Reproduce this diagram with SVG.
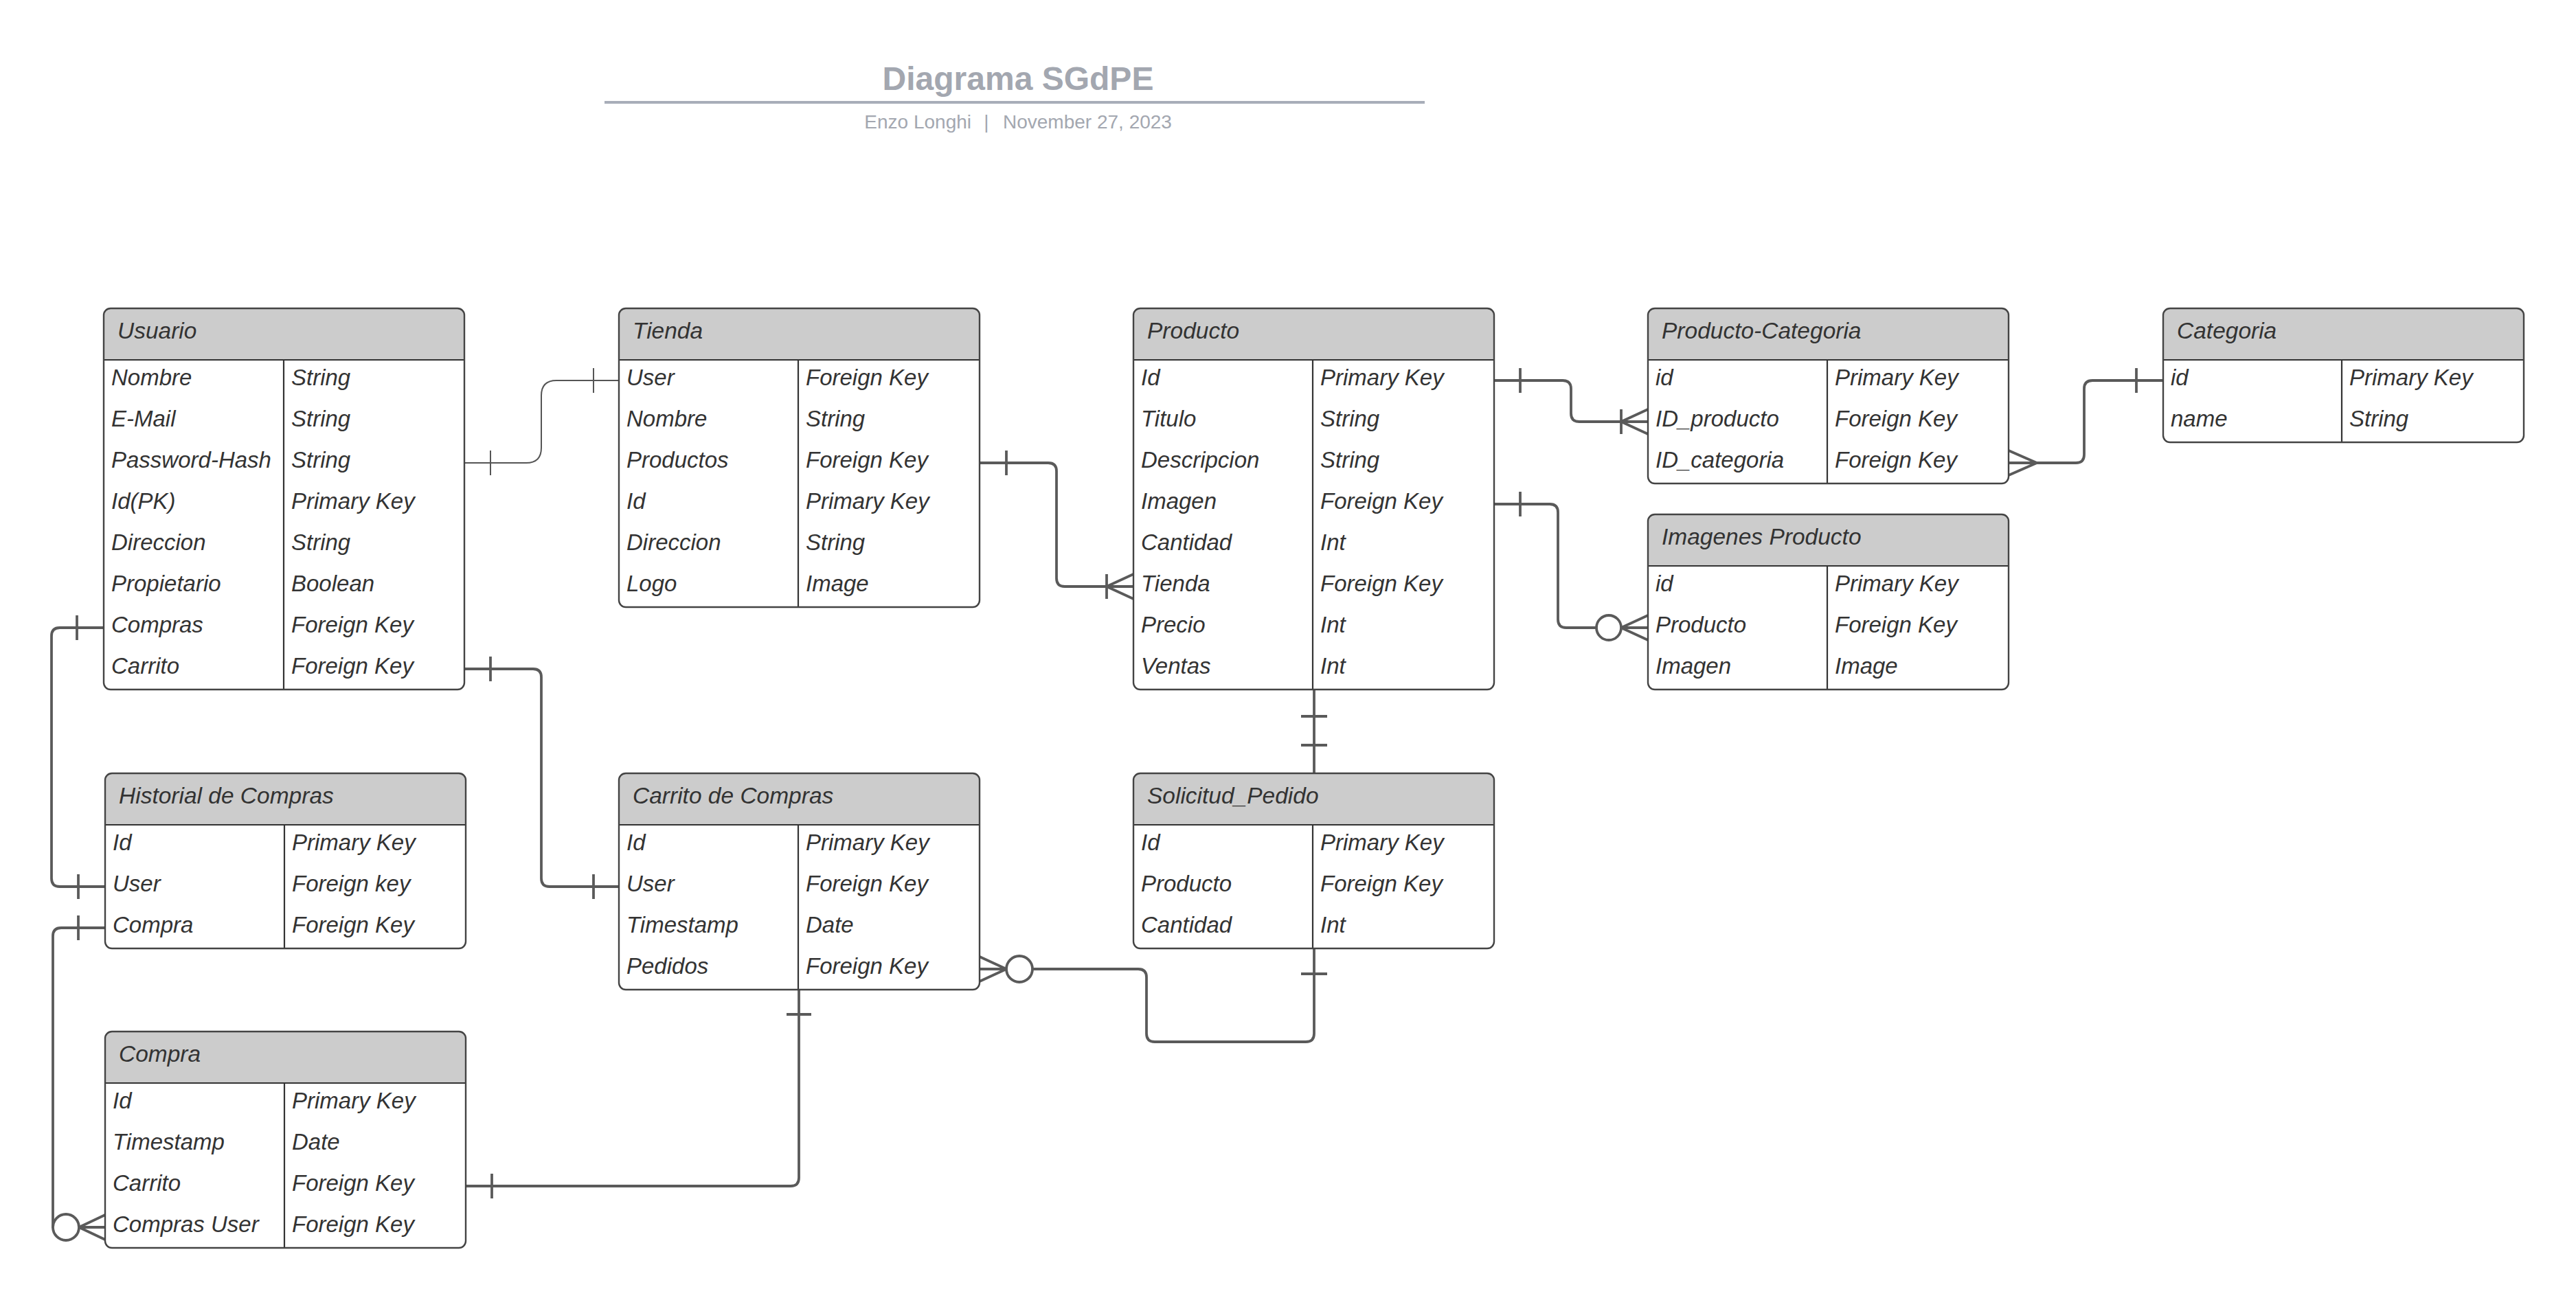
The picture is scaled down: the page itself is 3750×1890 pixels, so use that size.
<svg xmlns="http://www.w3.org/2000/svg" width="3750" height="1890" viewBox="0 0 3750 1890">
<style>
.bg{fill:#ffffff}
.body{fill:#ffffff;stroke:none}
.hdr{fill:#cccccc;stroke:none}
.frame{fill:none;stroke:#444444;stroke-width:2.4}
.sep{stroke:#333333;stroke-width:2.2}
.t{font-family:"Liberation Sans",Arial,sans-serif;font-style:italic;font-size:33px;fill:#333333}
.h{font-size:33.5px}
.title{font-family:"Liberation Sans",Arial,sans-serif;font-weight:bold;font-size:48px;fill:#a3a7b0}
.sub{font-family:"Liberation Sans",Arial,sans-serif;font-size:28px;fill:#a3a7b0}
.ln{fill:none;stroke:#5a5a5a;stroke-width:3.8;stroke-linejoin:round}
.thin{fill:none;stroke:#555555;stroke-width:2}
.circ{fill:#ffffff;stroke:#5a5a5a;stroke-width:3.8}
</style>
<rect class="bg" x="0" y="0" width="3750" height="1890"/>

<g id="title">
<text class="title" x="1482" y="131" text-anchor="middle">Diagrama SGdPE</text>
<line x1="880" y1="149" x2="2074" y2="149" stroke="#a8adb9" stroke-width="4"/>
<text class="sub" x="1414" y="187" text-anchor="end">Enzo Longhi</text>
<text class="sub" x="1436" y="187" text-anchor="middle">|</text>
<text class="sub" x="1460" y="187">November 27, 2023</text>
</g>

<g id="connectors">
<!-- Usuario -> Tienda (thin) -->
<path class="thin" d="M676,674 H766 Q788,674 788,652 V576 Q788,554 810,554 H901"/>
<path class="thin" d="M714,656 V692 M864,536 V572"/>
<!-- Usuario Carrito -> Carrito de Compras User -->
<path class="ln" d="M676,974 H776 Q788,974 788,986 V1279 Q788,1291 800,1291 H901"/>
<path class="ln" d="M714,956 V992 M864,1273 V1309"/>
<!-- Tienda Productos -> Producto Tienda -->
<path class="ln" d="M1426,674 H1526 Q1538,674 1538,686 V842 Q1538,854 1550,854 H1650"/>
<path class="ln" d="M1465,656 V692 M1611,836 V872 M1650,836 L1611,854 L1650,872"/>
<!-- Producto Id -> Producto-Categoria ID_producto -->
<path class="ln" d="M2175,554 H2275 Q2287,554 2287,566 V602 Q2287,614 2299,614 H2399"/>
<path class="ln" d="M2213,536 V572 M2360,596 V632 M2399,596 L2360,614 L2399,632"/>
<!-- Producto Imagen -> Imagenes Producto -->
<path class="ln" d="M2175,734 H2256 Q2268,734 2268,746 V902 Q2268,914 2280,914 H2399"/>
<path class="ln" d="M2213,716 V752 M2399,896 L2360,914 L2399,932"/>
<circle class="circ" cx="2342" cy="914" r="18"/>
<!-- Producto-Categoria ID_categoria -> Categoria id -->
<path class="ln" d="M2924,674 H3022 Q3034,674 3034,662 V566 Q3034,554 3046,554 H3149"/>
<path class="ln" d="M2924,656 L2965,674 L2924,692 M3110,536 V572"/>
<!-- Producto -> Solicitud_Pedido -->
<path class="ln" d="M1913,1004 V1126"/>
<path class="ln" d="M1894,1043 H1932 M1894,1085 H1932"/>
<!-- Carrito Pedidos -> Solicitud_Pedido -->
<path class="ln" d="M1426,1411 H1657 Q1669,1411 1669,1423 V1505 Q1669,1517 1681,1517 H1901 Q1913,1517 1913,1505 V1381"/>
<path class="ln" d="M1426,1393 L1465,1411 L1426,1429 M1894,1418 H1932"/>
<circle class="circ" cx="1484" cy="1411" r="19"/>
<!-- Carrito de Compras -> Compra Carrito -->
<path class="ln" d="M1163,1441 V1715 Q1163,1727 1151,1727 H678"/>
<path class="ln" d="M1145,1477 H1181 M716,1709 V1745"/>
<!-- Usuario Compras -> Historial User -->
<path class="ln" d="M151,914 H87 Q75,914 75,926 V1279 Q75,1291 87,1291 H153"/>
<path class="ln" d="M112,896 V932 M114,1273 V1309"/>
<!-- Historial Compra -> Compra Compras User -->
<path class="ln" d="M153,1351 H89 Q77,1351 77,1363 V1787 H153"/>
<path class="ln" d="M114,1333 V1369 M153,1769 L115,1787 L153,1805"/>
<circle class="circ" cx="96" cy="1787" r="19"/>
</g>

<g id="usuario">
<rect class="body" x="151" y="449" width="525" height="555" rx="10"/>
<path class="hdr" d="M151,524 V459 Q151,449 161,449 H666 Q676,449 676,459 V524 Z"/>
<line class="sep" x1="151" y1="524" x2="676" y2="524"/>
<line class="sep" x1="413" y1="524" x2="413" y2="1004"/>
<rect class="frame" x="151" y="449" width="525" height="555" rx="10"/>
<text class="t h" x="171" y="493">Usuario</text>
<text class="t" x="162" y="561">Nombre</text><text class="t" x="424" y="561">String</text>
<text class="t" x="162" y="621">E-Mail</text><text class="t" x="424" y="621">String</text>
<text class="t" x="162" y="681">Password-Hash</text><text class="t" x="424" y="681">String</text>
<text class="t" x="162" y="741">Id(PK)</text><text class="t" x="424" y="741">Primary Key</text>
<text class="t" x="162" y="801">Direccion</text><text class="t" x="424" y="801">String</text>
<text class="t" x="162" y="861">Propietario</text><text class="t" x="424" y="861">Boolean</text>
<text class="t" x="162" y="921">Compras</text><text class="t" x="424" y="921">Foreign Key</text>
<text class="t" x="162" y="981">Carrito</text><text class="t" x="424" y="981">Foreign Key</text>
</g>

<g id="tienda">
<rect class="body" x="901" y="449" width="525" height="435" rx="10"/>
<path class="hdr" d="M901,524 V459 Q901,449 911,449 H1416 Q1426,449 1426,459 V524 Z"/>
<line class="sep" x1="901" y1="524" x2="1426" y2="524"/>
<line class="sep" x1="1162" y1="524" x2="1162" y2="884"/>
<rect class="frame" x="901" y="449" width="525" height="435" rx="10"/>
<text class="t h" x="921" y="493">Tienda</text>
<text class="t" x="912" y="561">User</text><text class="t" x="1173" y="561">Foreign Key</text>
<text class="t" x="912" y="621">Nombre</text><text class="t" x="1173" y="621">String</text>
<text class="t" x="912" y="681">Productos</text><text class="t" x="1173" y="681">Foreign Key</text>
<text class="t" x="912" y="741">Id</text><text class="t" x="1173" y="741">Primary Key</text>
<text class="t" x="912" y="801">Direccion</text><text class="t" x="1173" y="801">String</text>
<text class="t" x="912" y="861">Logo</text><text class="t" x="1173" y="861">Image</text>
</g>

<g id="producto">
<rect class="body" x="1650" y="449" width="525" height="555" rx="10"/>
<path class="hdr" d="M1650,524 V459 Q1650,449 1660,449 H2165 Q2175,449 2175,459 V524 Z"/>
<line class="sep" x1="1650" y1="524" x2="2175" y2="524"/>
<line class="sep" x1="1911" y1="524" x2="1911" y2="1004"/>
<rect class="frame" x="1650" y="449" width="525" height="555" rx="10"/>
<text class="t h" x="1670" y="493">Producto</text>
<text class="t" x="1661" y="561">Id</text><text class="t" x="1922" y="561">Primary Key</text>
<text class="t" x="1661" y="621">Titulo</text><text class="t" x="1922" y="621">String</text>
<text class="t" x="1661" y="681">Descripcion</text><text class="t" x="1922" y="681">String</text>
<text class="t" x="1661" y="741">Imagen</text><text class="t" x="1922" y="741">Foreign Key</text>
<text class="t" x="1661" y="801">Cantidad</text><text class="t" x="1922" y="801">Int</text>
<text class="t" x="1661" y="861">Tienda</text><text class="t" x="1922" y="861">Foreign Key</text>
<text class="t" x="1661" y="921">Precio</text><text class="t" x="1922" y="921">Int</text>
<text class="t" x="1661" y="981">Ventas</text><text class="t" x="1922" y="981">Int</text>
</g>

<g id="producto-categoria">
<rect class="body" x="2399" y="449" width="525" height="255" rx="10"/>
<path class="hdr" d="M2399,524 V459 Q2399,449 2409,449 H2914 Q2924,449 2924,459 V524 Z"/>
<line class="sep" x1="2399" y1="524" x2="2924" y2="524"/>
<line class="sep" x1="2660" y1="524" x2="2660" y2="704"/>
<rect class="frame" x="2399" y="449" width="525" height="255" rx="10"/>
<text class="t h" x="2419" y="493">Producto-Categoria</text>
<text class="t" x="2410" y="561">id</text><text class="t" x="2671" y="561">Primary Key</text>
<text class="t" x="2410" y="621">ID_producto</text><text class="t" x="2671" y="621">Foreign Key</text>
<text class="t" x="2410" y="681">ID_categoria</text><text class="t" x="2671" y="681">Foreign Key</text>
</g>

<g id="categoria">
<rect class="body" x="3149" y="449" width="525" height="195" rx="10"/>
<path class="hdr" d="M3149,524 V459 Q3149,449 3159,449 H3664 Q3674,449 3674,459 V524 Z"/>
<line class="sep" x1="3149" y1="524" x2="3674" y2="524"/>
<line class="sep" x1="3409" y1="524" x2="3409" y2="644"/>
<rect class="frame" x="3149" y="449" width="525" height="195" rx="10"/>
<text class="t h" x="3169" y="493">Categoria</text>
<text class="t" x="3160" y="561">id</text><text class="t" x="3420" y="561">Primary Key</text>
<text class="t" x="3160" y="621">name</text><text class="t" x="3420" y="621">String</text>
</g>

<g id="imagenes-producto">
<rect class="body" x="2399" y="749" width="525" height="255" rx="10"/>
<path class="hdr" d="M2399,824 V759 Q2399,749 2409,749 H2914 Q2924,749 2924,759 V824 Z"/>
<line class="sep" x1="2399" y1="824" x2="2924" y2="824"/>
<line class="sep" x1="2660" y1="824" x2="2660" y2="1004"/>
<rect class="frame" x="2399" y="749" width="525" height="255" rx="10"/>
<text class="t h" x="2419" y="793">Imagenes Producto</text>
<text class="t" x="2410" y="861">id</text><text class="t" x="2671" y="861">Primary Key</text>
<text class="t" x="2410" y="921">Producto</text><text class="t" x="2671" y="921">Foreign Key</text>
<text class="t" x="2410" y="981">Imagen</text><text class="t" x="2671" y="981">Image</text>
</g>

<g id="historial-de-compras">
<rect class="body" x="153" y="1126" width="525" height="255" rx="10"/>
<path class="hdr" d="M153,1201 V1136 Q153,1126 163,1126 H668 Q678,1126 678,1136 V1201 Z"/>
<line class="sep" x1="153" y1="1201" x2="678" y2="1201"/>
<line class="sep" x1="414" y1="1201" x2="414" y2="1381"/>
<rect class="frame" x="153" y="1126" width="525" height="255" rx="10"/>
<text class="t h" x="173" y="1170">Historial de Compras</text>
<text class="t" x="164" y="1238">Id</text><text class="t" x="425" y="1238">Primary Key</text>
<text class="t" x="164" y="1298">User</text><text class="t" x="425" y="1298">Foreign key</text>
<text class="t" x="164" y="1358">Compra</text><text class="t" x="425" y="1358">Foreign Key</text>
</g>

<g id="carrito-de-compras">
<rect class="body" x="901" y="1126" width="525" height="315" rx="10"/>
<path class="hdr" d="M901,1201 V1136 Q901,1126 911,1126 H1416 Q1426,1126 1426,1136 V1201 Z"/>
<line class="sep" x1="901" y1="1201" x2="1426" y2="1201"/>
<line class="sep" x1="1162" y1="1201" x2="1162" y2="1441"/>
<rect class="frame" x="901" y="1126" width="525" height="315" rx="10"/>
<text class="t h" x="921" y="1170">Carrito de Compras</text>
<text class="t" x="912" y="1238">Id</text><text class="t" x="1173" y="1238">Primary Key</text>
<text class="t" x="912" y="1298">User</text><text class="t" x="1173" y="1298">Foreign Key</text>
<text class="t" x="912" y="1358">Timestamp</text><text class="t" x="1173" y="1358">Date</text>
<text class="t" x="912" y="1418">Pedidos</text><text class="t" x="1173" y="1418">Foreign Key</text>
</g>

<g id="solicitud-pedido">
<rect class="body" x="1650" y="1126" width="525" height="255" rx="10"/>
<path class="hdr" d="M1650,1201 V1136 Q1650,1126 1660,1126 H2165 Q2175,1126 2175,1136 V1201 Z"/>
<line class="sep" x1="1650" y1="1201" x2="2175" y2="1201"/>
<line class="sep" x1="1911" y1="1201" x2="1911" y2="1381"/>
<rect class="frame" x="1650" y="1126" width="525" height="255" rx="10"/>
<text class="t h" x="1670" y="1170">Solicitud_Pedido</text>
<text class="t" x="1661" y="1238">Id</text><text class="t" x="1922" y="1238">Primary Key</text>
<text class="t" x="1661" y="1298">Producto</text><text class="t" x="1922" y="1298">Foreign Key</text>
<text class="t" x="1661" y="1358">Cantidad</text><text class="t" x="1922" y="1358">Int</text>
</g>

<g id="compra">
<rect class="body" x="153" y="1502" width="525" height="315" rx="10"/>
<path class="hdr" d="M153,1577 V1512 Q153,1502 163,1502 H668 Q678,1502 678,1512 V1577 Z"/>
<line class="sep" x1="153" y1="1577" x2="678" y2="1577"/>
<line class="sep" x1="414" y1="1577" x2="414" y2="1817"/>
<rect class="frame" x="153" y="1502" width="525" height="315" rx="10"/>
<text class="t h" x="173" y="1546">Compra</text>
<text class="t" x="164" y="1614">Id</text><text class="t" x="425" y="1614">Primary Key</text>
<text class="t" x="164" y="1674">Timestamp</text><text class="t" x="425" y="1674">Date</text>
<text class="t" x="164" y="1734">Carrito</text><text class="t" x="425" y="1734">Foreign Key</text>
<text class="t" x="164" y="1794">Compras User</text><text class="t" x="425" y="1794">Foreign Key</text>
</g>
</svg>
